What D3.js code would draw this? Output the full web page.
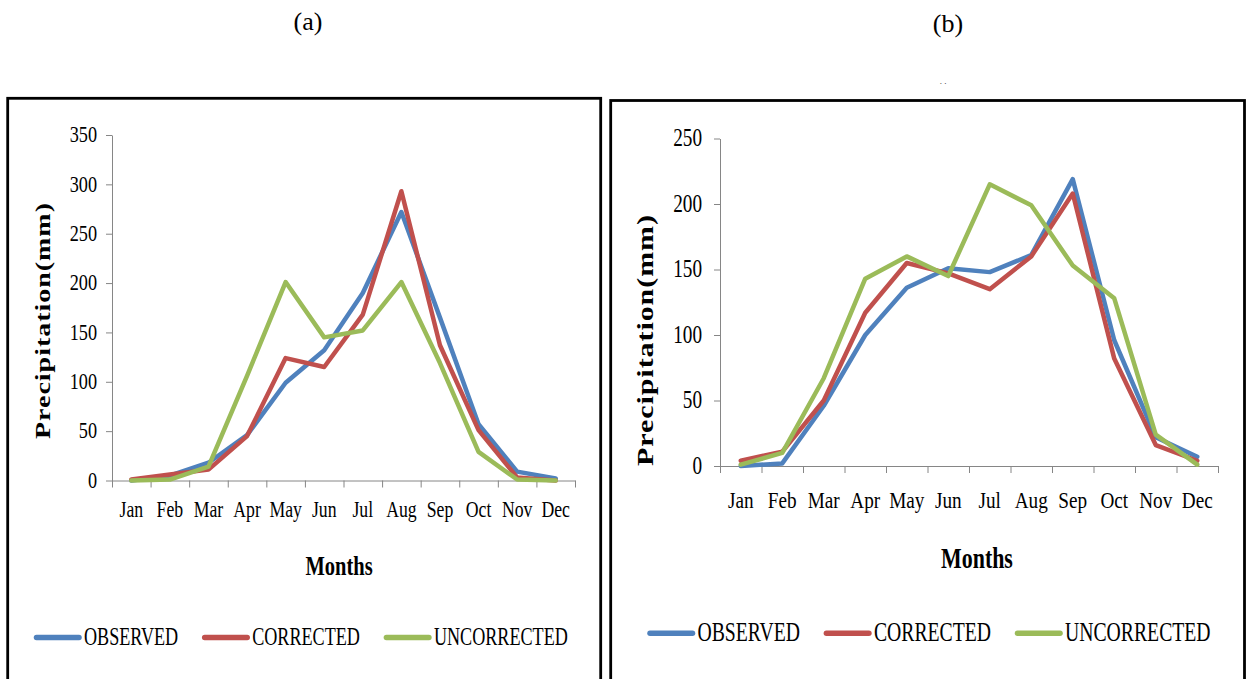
<!DOCTYPE html>
<html>
<head>
<meta charset="utf-8">
<script src="https://cdn.jsdelivr.net/npm/d3@7"></script>
<style>
  body { margin: 0; background: #fff; }
</style>
</head>
<body>
<div id="chart"></div>
<script>
// data

const months = ["Jan", "Feb", "Mar", "Apr", "May", "Jun", "Jul", "Aug", "Sep", "Oct", "Nov", "Dec"];
const seriesNames = ["OBSERVED", "CORRECTED", "UNCORRECTED"];
const seriesColors = ["#4f81bd", "#c0504d", "#9bbb59"];

// panel (a)
const observedA    = [0, 5, 18, 46, 99, 132, 190, 272, 165, 57, 9, 2];
const correctedA   = [1, 6, 11, 45, 124, 115, 168, 293, 137, 51, 3, 0];
const uncorrectedA = [0, 1, 14, 106, 201, 145, 152, 201, 119, 29, 1, 0];
const yTicksA = [0, 50, 100, 150, 200, 250, 300, 350];

// panel (b)
const observedB    = [0, 2, 46, 100, 136, 151, 148, 161, 219, 96, 22, 7];
const correctedB   = [4, 11, 50, 117, 155, 147, 135, 160, 208, 82, 16, 4];
const uncorrectedB = [1, 10, 67, 143, 160, 145, 215, 199, 153, 128, 24, 1];
const yTicksB = [0, 50, 100, 150, 200, 250];

const serif = "'Liberation Serif', 'Times New Roman', serif";

const svg = d3.select("#chart")
  .append("svg")
    .attr("width", 1246)
    .attr("height", 679);

// text squeezed sideways like the original picture
function squeezed(g, str, x, y, size, sx, anchor, weight) {
  return g.append("text")
    .attr("transform", `translate(${x},${y}) scale(${sx},1)`)
    .attr("text-anchor", anchor)
    .style("font-family", serif)
    .style("font-size", size + "px")
    .style("font-weight", weight || "normal")
    .style("fill", "#000")
    .text(str);
}

function drawPanel(p) {
  const g = svg.append("g");

  // panel letter above the frame
  g.append("text")
    .attr("x", p.labelX)
    .attr("y", p.labelY)
    .attr("text-anchor", "middle")
    .style("font-family", serif)
    .style("font-size", "26px")
    .text(p.label);

  // frame round the chart
  g.append("rect")
    .attr("x", p.box[0])
    .attr("y", p.box[1])
    .attr("width", p.box[2] - p.box[0])
    .attr("height", p.box[3] - p.box[1])
    .attr("fill", "none")
    .attr("stroke", "#000")
    .attr("stroke-width", 2.8);

  // scales
  const x = d3.scaleBand().domain(months).range([p.x0, p.x1]);
  const xEdges = d3.scaleLinear().domain([0, months.length]).range([p.x0, p.x1]);
  const y = d3.scaleLinear().domain([0, p.yMax]).range([p.yBottom, p.yTop]);

  // y axis
  const yAxis = g.append("g")
    .attr("transform", `translate(${p.x0},0)`)
    .call(d3.axisLeft(y).tickValues(p.ticks).tickSize(6).tickSizeOuter(0).tickFormat(""));
  yAxis.selectAll("path, line").attr("stroke", "#868686");

  p.ticks.forEach(function(t) {
    squeezed(g, t, p.tickRight, y(t), p.tickFont, p.tickSx, "end")
      .attr("dy", "0.3em");
  });

  // x axis, ticks on the category edges
  const xAxis = g.append("g")
    .attr("transform", `translate(0,${p.yBottom})`)
    .call(d3.axisBottom(xEdges).tickValues(d3.range(months.length + 1)).tickSize(7).tickSizeOuter(0).tickFormat(""));
  xAxis.selectAll("path, line").attr("stroke", "#868686");

  months.forEach(function(m) {
    squeezed(g, m, x(m) + x.bandwidth() / 2, p.monthBase, p.monthFont, p.monthSx, "middle");
  });

  // axis titles
  squeezed(g, "Months", p.titleX, p.titleBase, p.titleFont, p.titleSx, "middle", "bold");

  g.append("text")
    .attr("transform", `translate(${p.yTitleX},${p.yTitleY}) rotate(-90) scale(1,0.74)`)
    .attr("text-anchor", "middle")
    .attr("textLength", p.yTitleLen)
    .attr("lengthAdjust", "spacing")
    .style("font-family", serif)
    .style("font-size", p.yTitleFont + "px")
    .style("font-weight", "bold")
    .text("Precipitation(mm)");

  // the three lines
  const line = d3.line()
    .x(function(d, i) { return x(months[i]) + x.bandwidth() / 2; })
    .y(function(d) { return y(d); });

  p.series.forEach(function(s, k) {
    g.append("path")
      .datum(s)
      .attr("d", line)
      .attr("fill", "none")
      .attr("stroke", seriesColors[k])
      .attr("stroke-width", 4.5)
      .attr("stroke-linejoin", "round")
      .attr("stroke-linecap", "round");
  });

  // legend
  let lx = p.legX;
  seriesNames.forEach(function(name, k) {
    g.append("line")
      .attr("x1", lx + 2.5)
      .attr("x2", lx + 45)
      .attr("y1", p.legY)
      .attr("y2", p.legY)
      .attr("stroke", seriesColors[k])
      .attr("stroke-width", 5.5)
      .attr("stroke-linecap", "round");
    const t = squeezed(g, name, lx + 50, p.legY, p.legFont, p.legSx, "start")
      .attr("dy", "0.28em");
    lx += 50 + t.node().getComputedTextLength() * p.legSx + 24;
  });
}

drawPanel({
  label: "(a)", labelX: 308, labelY: 30,
  box: [7.7, 98.3, 600.7, 720],
  x0: 112, x1: 575, yBottom: 480.5, yTop: 135, yMax: 350, ticks: yTicksA,
  series: [observedA, correctedA, uncorrectedA],
  tickFont: 24, tickSx: 0.76, tickRight: 97,
  monthFont: 23, monthSx: 0.77, monthBase: 517,
  titleX: 339, titleBase: 575, titleFont: 27, titleSx: 0.76,
  yTitleX: 49.5, yTitleY: 321, yTitleLen: 236, yTitleFont: 28,
  legX: 34, legY: 637.5, legFont: 25, legSx: 0.725
});

drawPanel({
  label: "(b)", labelX: 948, labelY: 32,
  box: [610.7, 100.5, 1244.5, 720],
  x0: 720, x1: 1218, yBottom: 466, yTop: 138.5, yMax: 250, ticks: yTicksB,
  series: [observedB, correctedB, uncorrectedB],
  tickFont: 26, tickSx: 0.74, tickRight: 702,
  monthFont: 24, monthSx: 0.8, monthBase: 508,
  titleX: 977, titleBase: 568, titleFont: 30, titleSx: 0.73,
  yTitleX: 653, yTitleY: 340.5, yTitleLen: 251, yTitleFont: 30,
  legX: 647.5, legY: 633.3, legFont: 27, legSx: 0.73
});

// two stray specks above panel (b)
svg.append("text")
  .attr("x", 943)
  .attr("y", 84)
  .attr("text-anchor", "middle")
  .style("font-family", serif)
  .style("font-size", "9px")
  .style("fill", "#222")
  .text(".    .");
</script>
</body>
</html>
